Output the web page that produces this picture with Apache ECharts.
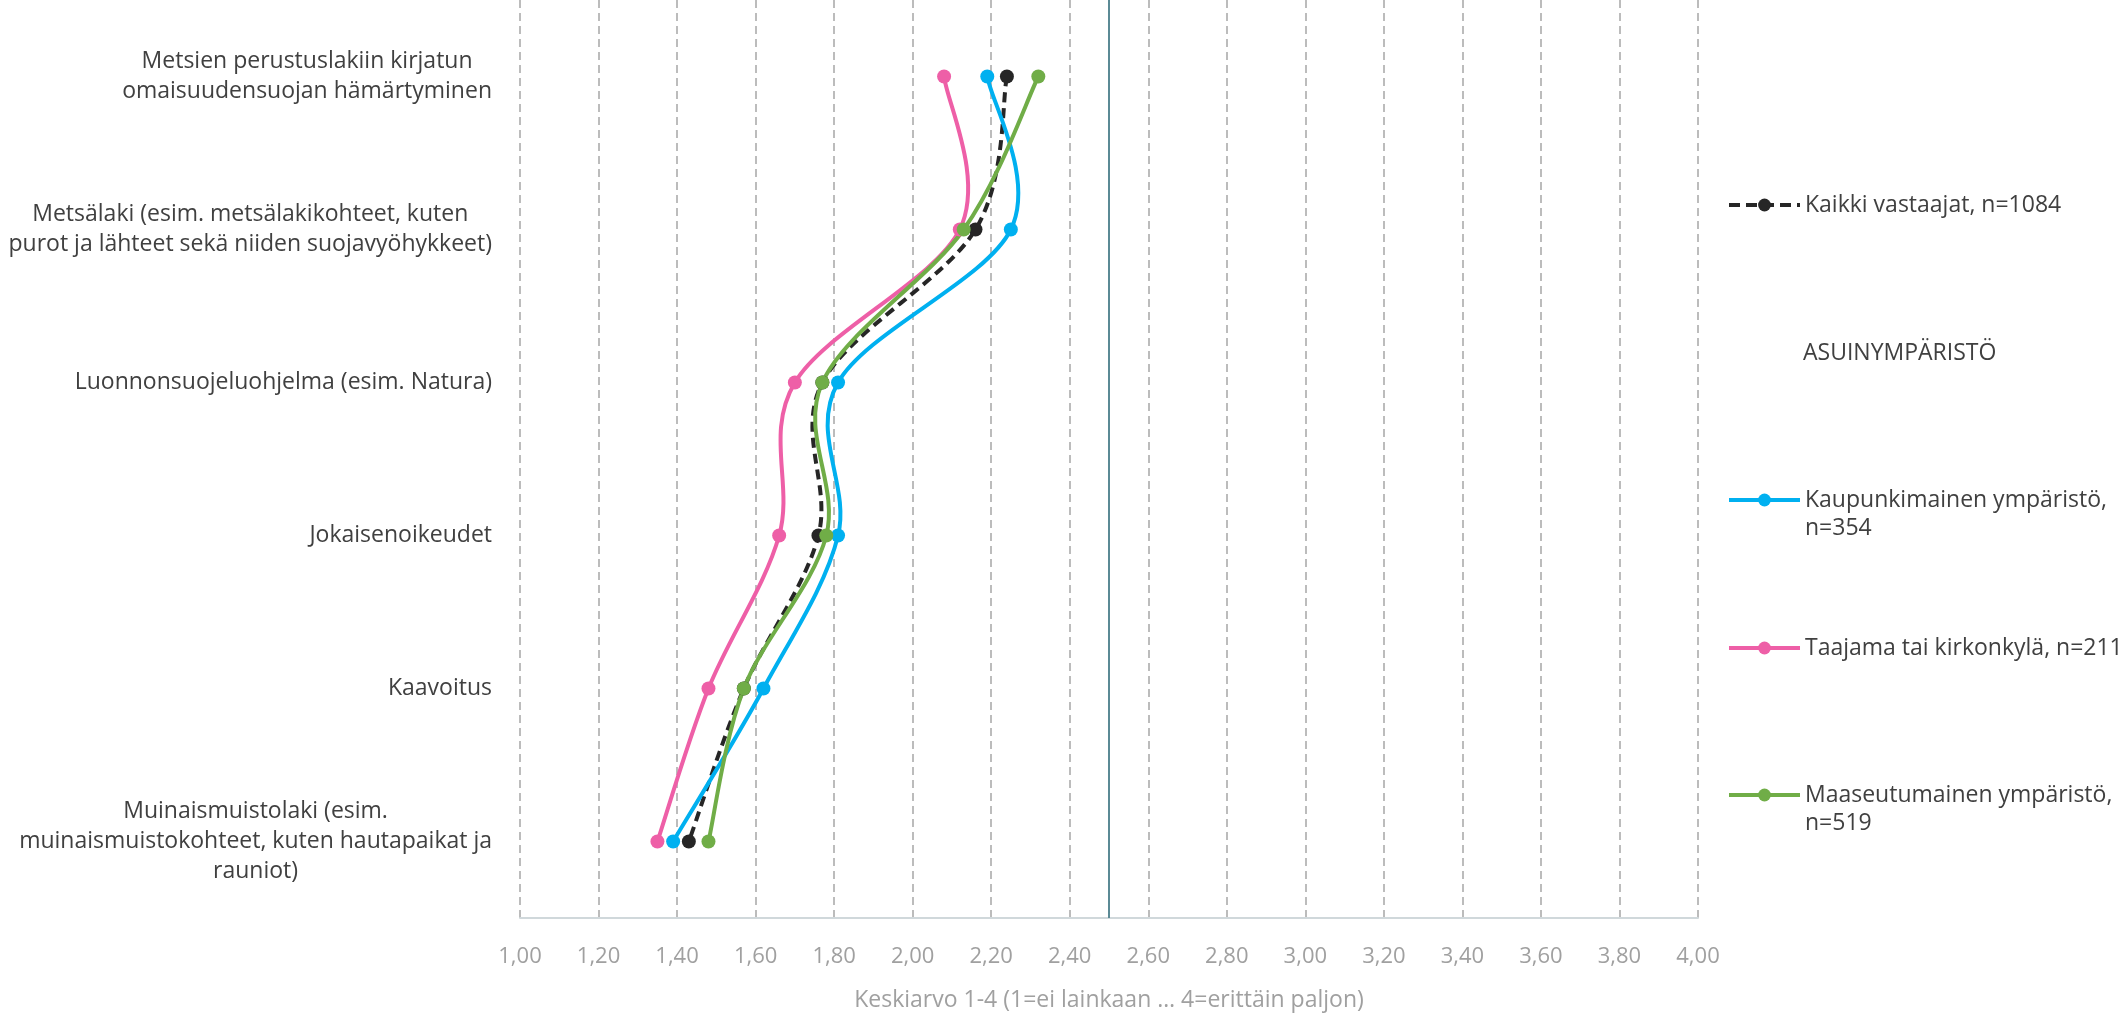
<!DOCTYPE html>
<html>
<head>
<meta charset="utf-8">
<script src="https://cdn.jsdelivr.net/npm/echarts@6/dist/echarts.min.js"></script>
<style>
html,body{margin:0;padding:0;background:#fff;}
#chart{width:2126px;height:1015px;}
</style>
</head>
<body>
<div id="chart"></div>
<script>
const categories = [
  'Metsien perustuslakiin kirjatun\nomaisuudensuojan hämärtyminen',
  'Metsälaki (esim. metsälakikohteet, kuten\npurot ja lähteet sekä niiden suojavyöhykkeet)',
  'Luonnonsuojeluohjelma (esim. Natura)',
  'Jokaisenoikeudet',
  'Kaavoitus',
  'Muinaismuistolaki (esim.\nmuinaismuistokohteet, kuten hautapaikat ja\nrauniot)'
];
const kaikki = [2.24, 2.16, 1.77, 1.76, 1.57, 1.43];
const kaupunki = [2.19, 2.25, 1.81, 1.81, 1.62, 1.39];
const taajama = [2.08, 2.12, 1.70, 1.66, 1.48, 1.35];
const maaseutu = [2.32, 2.13, 1.77, 1.78, 1.57, 1.48];
const xTicks = ['1,00','1,20','1,40','1,60','1,80','2,00','2,20','2,40','2,60','2,80','3,00','3,20','3,40','3,60','3,80','4,00'];
const refValue = 2.5;

const names = {
  kaikki: 'Kaikki vastaajat, n=1084',
  group: 'ASUINYMPÄRISTÖ',
  kaupunki: 'Kaupunkimainen ympäristö, n=354',
  taajama: 'Taajama tai kirkonkylä, n=211',
  maaseutu: 'Maaseutumainen ympäristö, n=519'
};
const legendLabels = {};
legendLabels[names.kaikki] = 'Kaikki vastaajat, n=1084';
legendLabels[names.group] = 'ASUINYMPÄRISTÖ';
legendLabels[names.kaupunki] = '\nKaupunkimainen ympäristö,\nn=354';
legendLabels[names.taajama] = 'Taajama tai kirkonkylä, n=211';
legendLabels[names.maaseutu] = '\nMaaseutumainen ympäristö,\nn=519';

const COLORS = { kaikki: '#262626', kaupunki: '#00b0f0', taajama: '#ee5fa7', maaseutu: '#70ad47' };
const DASH = [10, 6];
const FONT = '"Open Sans", sans-serif';
const chart = echarts.init(document.getElementById('chart'));

function mkLegend(name, top, color, dashed) {
  return {
    data: [name],
    left: 1727,
    top: top,
    padding: 0,
    orient: 'vertical',
    itemWidth: 71,
    itemHeight: 16,
    selectedMode: false,
    formatter: n => legendLabels[n],
    lineStyle: { color: color, width: 4, type: dashed ? [11, 6] : 'solid', opacity: color === 'none' ? 0 : 1 },
    itemStyle: { color: color === 'none' ? 'rgba(0,0,0,0)' : color, opacity: color === 'none' ? 0 : 1 },
    textStyle: { fontFamily: FONT, fontSize: 23, color: '#404040', lineHeight: 28 }
  };
}

// Smooth curve (Catmull-Rom style, as in the original spreadsheet chart) drawn through the data via the axes
function curveSeries(vals, color, dashed) {
  return {
    type: 'custom',
    coordinateSystem: 'cartesian2d',
    silent: true,
    animation: false,
    data: [[vals[0], 0]],
    encode: { x: 0, y: 1 },
    renderItem: function (params, api) {
      const pts = vals.map((v, i) => api.coord([v, i]));
      let d = 'M' + pts[0][0] + ' ' + pts[0][1];
      for (let i = 0; i < pts.length - 1; i++) {
        const p0 = pts[Math.max(i - 1, 0)], p1 = pts[i], p2 = pts[i + 1], p3 = pts[Math.min(i + 2, pts.length - 1)];
        const c1 = [p1[0] + (p2[0] - p0[0]) / 6, p1[1] + (p2[1] - p0[1]) / 6];
        const c2 = [p2[0] - (p3[0] - p1[0]) / 6, p2[1] - (p3[1] - p1[1]) / 6];
        d += ' C' + c1[0] + ' ' + c1[1] + ' ' + c2[0] + ' ' + c2[1] + ' ' + p2[0] + ' ' + p2[1];
      }
      return {
        type: 'path',
        shape: { pathData: d },
        style: { fill: 'none', stroke: color, lineWidth: 4, lineDash: dashed ? DASH : null }
      };
    }
  };
}

function markerSeries(name, data, color) {
  return {
    name: name,
    type: 'line',
    data: data,
    symbol: 'circle',
    symbolSize: 14,
    showAllSymbol: true,
    lineStyle: { color: color, width: 4, opacity: 0 },
    itemStyle: { color: color },
    emphasis: { disabled: true },
    animation: false
  };
}

const kaikkiMarkers = markerSeries(names.kaikki, kaikki, COLORS.kaikki);
kaikkiMarkers.markLine = {
  silent: true,
  symbol: 'none',
  label: { show: false },
  lineStyle: { color: '#5b8a95', width: 2, type: 'solid', opacity: 1 },
  data: [{ xAxis: refValue }],
  animation: false
};

const option = {
  backgroundColor: '#ffffff',
  animation: false,
  grid: { left: 520, right: 428, top: 0, bottom: 97, containLabel: false, outerBoundsMode: 'none' },
  xAxis: {
    type: 'value',
    min: 1,
    max: 4,
    interval: 0.2,
    axisLabel: {
      formatter: v => xTicks[Math.round((v - 1) / 0.2)],
      fontFamily: FONT, fontSize: 22, color: '#a0a0a0', margin: 28
    },
    axisLine: { show: true, lineStyle: { color: '#d0d8db', width: 2 } },
    axisTick: { show: false },
    splitLine: { show: true, lineStyle: { color: '#a6a6a6', width: 1.5, type: [8, 5] } },
    name: 'Keskiarvo 1-4 (1=ei lainkaan … 4=erittäin paljon)',
    nameLocation: 'middle',
    nameGap: 71,
    nameTextStyle: { fontFamily: FONT, fontSize: 23, color: '#a0a0a0' }
  },
  yAxis: {
    type: 'category',
    data: categories,
    inverse: true,
    boundaryGap: true,
    axisLine: { show: false },
    axisTick: { show: false },
    splitLine: { show: false },
    axisLabel: {
      margin: 28,
      formatter: v => v.split('\n').map(s => '{c|' + s + '}').join('\n'),
      rich: {
        c: { align: 'center', fontFamily: FONT, fontSize: 23, color: '#404040', lineHeight: 30 }
      }
    }
  },
  legend: [
    mkLegend(names.kaikki, 191, COLORS.kaikki, true),
    mkLegend(names.group, 339, 'none', false),
    mkLegend(names.kaupunki, 458, COLORS.kaupunki, false),
    mkLegend(names.taajama, 634, COLORS.taajama, false),
    mkLegend(names.maaseutu, 753, COLORS.maaseutu, false)
  ],
  series: [
    curveSeries(kaikki, COLORS.kaikki, true),
    kaikkiMarkers,
    {
      name: names.group,
      type: 'line',
      data: [],
      symbol: 'none',
      lineStyle: { color: 'rgba(0,0,0,0)', width: 0 },
      itemStyle: { color: 'rgba(0,0,0,0)' }
    },
    curveSeries(kaupunki, COLORS.kaupunki, false),
    markerSeries(names.kaupunki, kaupunki, COLORS.kaupunki),
    curveSeries(taajama, COLORS.taajama, false),
    markerSeries(names.taajama, taajama, COLORS.taajama),
    curveSeries(maaseutu, COLORS.maaseutu, false),
    markerSeries(names.maaseutu, maaseutu, COLORS.maaseutu)
  ]
};
chart.setOption(option);
</script>
</body>
</html>
